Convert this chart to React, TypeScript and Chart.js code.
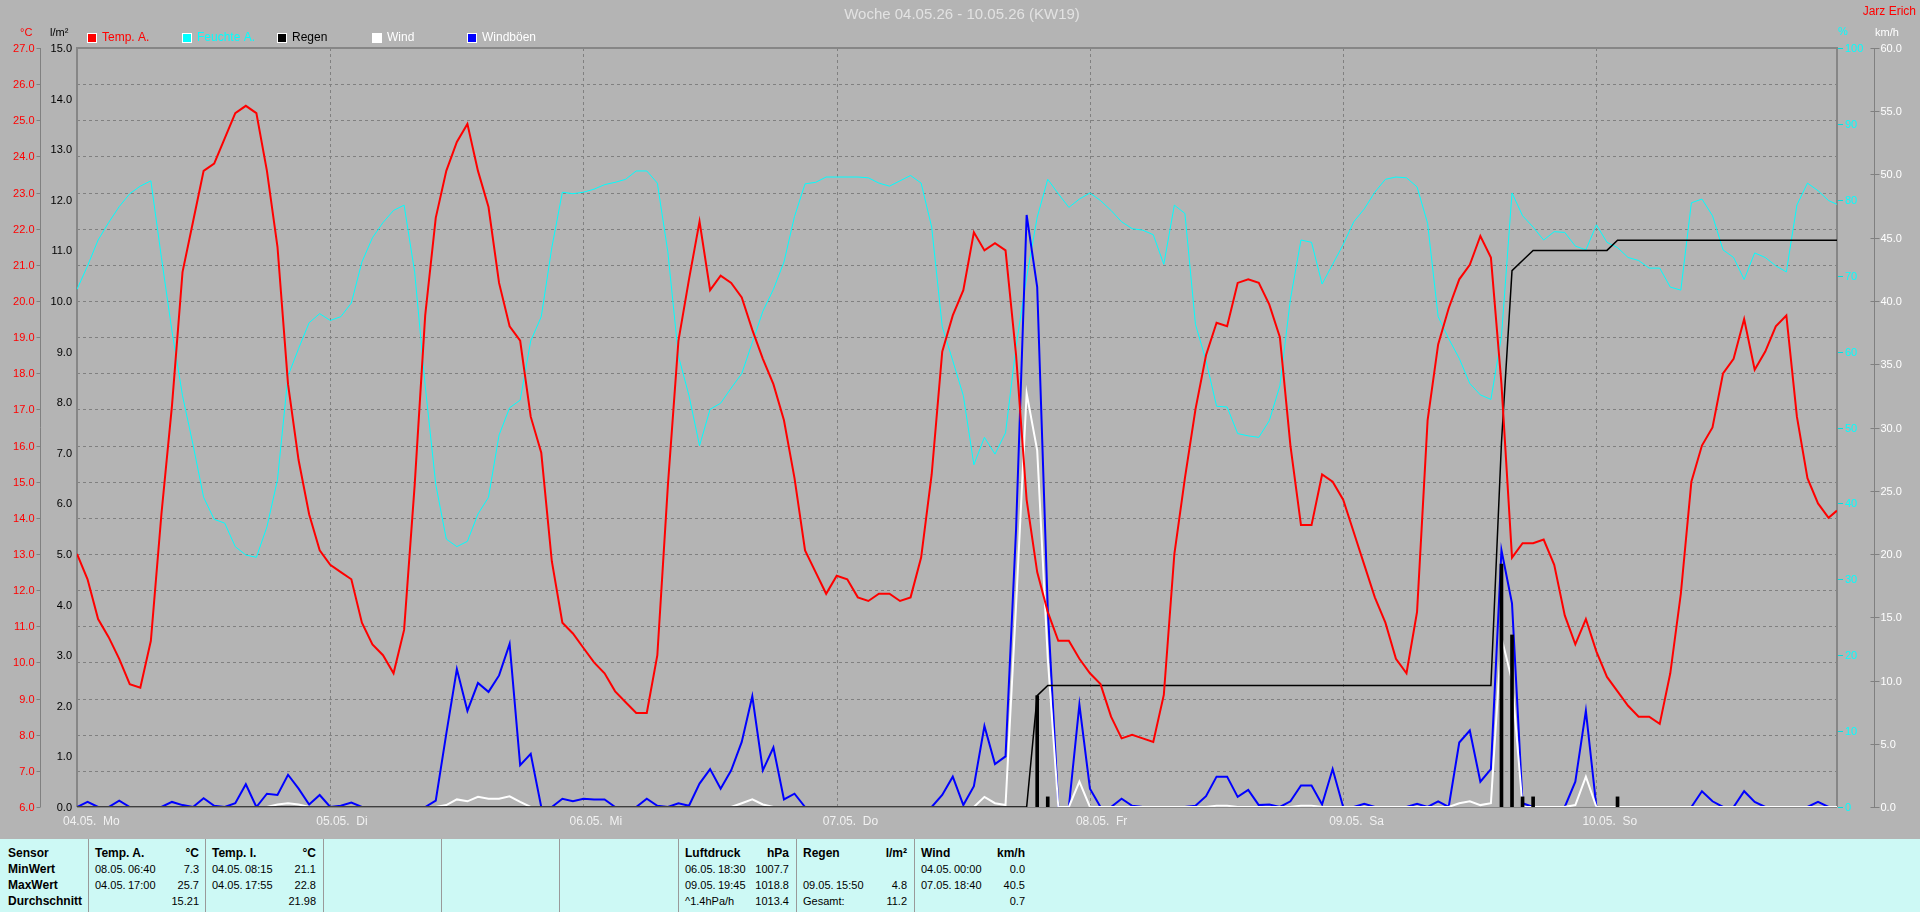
import React, { useEffect, useRef } from "react";
import { Chart, registerables } from "chart.js";

Chart.register(...registerables);

const FONT = '"Liberation Sans", Arial, sans-serif';
const BG = "#b4b4b4";
const TABLE_BG = "#cdf9f5";

// x categories: hours since 04.05. 00:00 (last point = right edge of the week plot)
const HOURS = [...Array.from({ length: 167 }, (_, i) => i), 166.8];

const TEMP_A = [
  13.0, 12.3, 11.2, 10.7, 10.1, 9.4, 9.3, 10.6, 14.1, 17.1, 20.8, 22.2, 23.6, 23.8, 24.5, 25.2, 25.4, 25.2, 23.6, 21.5, 17.7, 15.6, 14.1, 13.1,
  12.7, 12.5, 12.3, 11.1, 10.5, 10.2, 9.7, 10.9, 14.9, 19.6, 22.3, 23.6, 24.4, 24.9, 23.6, 22.6, 20.5, 19.3, 18.9, 16.8, 15.8, 12.8, 11.1, 10.8,
  10.4, 10.0, 9.7, 9.2, 8.9, 8.6, 8.6, 10.2, 14.9, 18.9, 20.6, 22.2, 20.3, 20.7, 20.5, 20.1, 19.2, 18.4, 17.7, 16.7, 15.1, 13.1, 12.5, 11.9,
  12.4, 12.3, 11.8, 11.7, 11.9, 11.9, 11.7, 11.8, 12.9, 15.2, 18.6, 19.6, 20.3, 21.9, 21.4, 21.6, 21.4, 18.5, 14.5, 12.5, 11.4, 10.6, 10.6, 10.1,
  9.7, 9.4, 8.5, 7.9, 8.0, 7.9, 7.8, 9.1, 13.0, 15.1, 17.0, 18.5, 19.4, 19.3, 20.5, 20.6, 20.5, 19.9, 19.0, 16.0, 13.8, 13.8, 15.2, 15.0,
  14.5, 13.6, 12.7, 11.8, 11.1, 10.1, 9.7, 11.4, 16.7, 18.8, 19.8, 20.6, 21.0, 21.8, 21.2, 17.7, 12.9, 13.3, 13.3, 13.4, 12.7, 11.3, 10.5, 11.2,
  10.3, 9.6, 9.2, 8.8, 8.5, 8.5, 8.3, 9.7, 11.9, 15.0, 16.0, 16.5, 18.0, 18.4, 19.5, 18.1, 18.6, 19.3, 19.6, 16.8, 15.1, 14.4, 14.0, 14.2,
];

const HUMIDITY_A = [
  68.2, 71.3, 74.7, 77.0, 79.1, 80.8, 81.8, 82.5, 72.4, 62.7, 54.2, 47.7, 40.8, 37.9, 37.4, 34.3, 33.2, 32.9, 36.9, 43.1, 56.8, 60.4, 63.8, 65.0,
  64.1, 64.6, 66.4, 71.8, 75.0, 77.0, 78.6, 79.3, 70.5, 55.5, 42.5, 35.3, 34.3, 35.0, 38.6, 40.8, 49.0, 52.6, 53.6, 61.4, 64.6, 73.7, 81.0, 80.8,
  81.0, 81.4, 82.0, 82.3, 82.7, 83.8, 83.8, 82.2, 73.1, 59.4, 54.2, 47.6, 52.4, 53.2, 55.2, 57.1, 61.2, 65.3, 68.2, 71.8, 77.8, 82.1, 82.3, 83.0,
  83.0, 83.0, 83.0, 82.9, 82.2, 81.8, 82.5, 83.2, 82.2, 76.4, 63.3, 58.8, 54.2, 45.1, 48.7, 46.5, 49.3, 60.7, 69.8, 77.7, 82.7, 80.8, 79.0, 80.1,
  80.9, 79.9, 78.6, 77.1, 76.2, 76.0, 75.4, 71.5, 79.3, 78.2, 63.6, 58.8, 52.8, 52.7, 49.2, 48.9, 48.7, 50.9, 55.5, 66.9, 74.7, 74.4, 68.9, 71.5,
  74.1, 77.1, 78.8, 81.0, 82.7, 83.0, 82.9, 81.7, 76.9, 64.6, 61.7, 59.1, 55.8, 54.3, 53.7, 62.0, 80.9, 77.9, 76.4, 74.7, 75.8, 75.7, 73.9, 73.4,
  76.7, 74.4, 73.7, 72.4, 72.0, 71.0, 71.0, 68.5, 68.1, 79.6, 80.1, 77.9, 73.4, 72.4, 69.5, 73.0, 72.4, 71.3, 70.5, 79.3, 82.2, 81.2, 79.9, 79.4,
];

const GUSTS = [
  0, 0.4, 0, 0, 0.5, 0, 0, 0, 0, 0.4, 0.15, 0, 0.7, 0.1, 0, 0.3, 1.8, 0, 1.05, 0.95, 2.55, 1.45, 0.2, 0.95,
  0, 0.1, 0.35, 0, 0, 0, 0, 0, 0, 0, 0.5, 5.8, 10.9, 7.6, 9.8, 9.1, 10.4, 12.9, 3.3, 4.2, 0, 0, 0.65, 0.45,
  0.65, 0.6, 0.6, 0, 0, 0, 0.65, 0.1, 0, 0.3, 0.1, 1.85, 3.0, 1.45, 2.9, 5.15, 8.75, 2.9, 4.7, 0.6, 1.05, 0, 0, 0,
  0, 0, 0, 0, 0, 0, 0, 0, 0, 0, 0.95, 2.4, 0.15, 1.65, 6.4, 3.4, 4.0, 22, 46.8, 41.1, 15.7, 0, 0, 8.1,
  1.45, 0, 0, 0.65, 0.1, 0, 0, 0, 0, 0, 0.1, 0.85, 2.4, 2.4, 0.8, 1.35, 0.15, 0.2, 0, 0.45, 1.7, 1.7, 0.2, 3.0,
  0, 0, 0.25, 0, 0, 0, 0, 0.25, 0, 0.45, 0, 5.1, 6.05, 2.0, 3.0, 20.3, 16.1, 0.3, 0, 0, 0, 0, 2.0, 7.6,
  0, 0, 0, 0, 0, 0, 0, 0, 0, 0, 1.25, 0.45, 0, 0, 1.25, 0.4, 0, 0, 0, 0, 0, 0.4, 0, 0,
];

const WIND = [
  0, 0, 0, 0, 0, 0, 0, 0, 0, 0, 0, 0, 0, 0, 0, 0, 0, 0, 0, 0.2, 0.3, 0.2, 0, 0,
  0, 0, 0, 0, 0, 0, 0, 0, 0, 0, 0, 0.15, 0.6, 0.45, 0.8, 0.65, 0.65, 0.85, 0.4, 0, 0, 0, 0, 0,
  0, 0, 0, 0, 0, 0, 0, 0, 0, 0, 0, 0, 0, 0, 0, 0.3, 0.6, 0.2, 0, 0, 0, 0, 0, 0,
  0, 0, 0, 0, 0, 0, 0, 0, 0, 0, 0, 0, 0, 0, 0.8, 0.3, 0.15, 16, 32.7, 28.2, 11.8, 0, 0, 2.0,
  0, 0, 0, 0, 0, 0, 0, 0, 0, 0, 0, 0, 0.1, 0.1, 0, 0, 0, 0, 0, 0, 0.1, 0.1, 0, 0,
  0, 0, 0, 0, 0, 0, 0, 0, 0, 0, 0, 0.3, 0.45, 0.15, 0.3, 13.4, 10.0, 0, 0, 0, 0, 0, 0.15, 2.4,
  0, 0, 0, 0, 0, 0, 0, 0, 0, 0, 0, 0, 0, 0, 0, 0, 0, 0, 0, 0, 0, 0, 0, 0,
];

const RAIN_TOTAL = [
  0, 0, 0, 0, 0, 0, 0, 0, 0, 0, 0, 0, 0, 0, 0, 0, 0, 0, 0, 0, 0, 0, 0, 0,
  0, 0, 0, 0, 0, 0, 0, 0, 0, 0, 0, 0, 0, 0, 0, 0, 0, 0, 0, 0, 0, 0, 0, 0,
  0, 0, 0, 0, 0, 0, 0, 0, 0, 0, 0, 0, 0, 0, 0, 0, 0, 0, 0, 0, 0, 0, 0, 0,
  0, 0, 0, 0, 0, 0, 0, 0, 0, 0, 0, 0, 0, 0, 0, 0, 0, 0, 0, 2.2, 2.4, 2.4, 2.4, 2.4,
  2.4, 2.4, 2.4, 2.4, 2.4, 2.4, 2.4, 2.4, 2.4, 2.4, 2.4, 2.4, 2.4, 2.4, 2.4, 2.4, 2.4, 2.4, 2.4, 2.4, 2.4, 2.4, 2.4, 2.4,
  2.4, 2.4, 2.4, 2.4, 2.4, 2.4, 2.4, 2.4, 2.4, 2.4, 2.4, 2.4, 2.4, 2.4, 2.4, 7.2, 10.6, 10.8, 11.0, 11.0, 11.0, 11.0, 11.0, 11.0,
  11.0, 11.0, 11.2, 11.2, 11.2, 11.2, 11.2, 11.2, 11.2, 11.2, 11.2, 11.2, 11.2, 11.2, 11.2, 11.2, 11.2, 11.2, 11.2, 11.2, 11.2, 11.2, 11.2, 11.2,
];

const RAIN_BAR_HOURS = [91, 92, 135, 136, 137, 138, 146];
const RAIN_BAR_VALUES = [2.2, 0.2, 4.8, 3.4, 0.2, 0.2, 0.2];

const DAY_LABELS = ["04.05.  Mo", "05.05.  Di", "06.05.  Mi", "07.05.  Do", "08.05.  Fr", "09.05.  Sa", "10.05.  So"];

const LEGEND_ITEMS = [
  { text: "Temp. A.", color: "#ff0000", textColor: "#ff0000" },
  { text: "Feuchte A.", color: "#00ffff", textColor: "#00ffff" },
  { text: "Regen", color: "#000000", textColor: "#000000" },
  { text: "Wind", color: "#ffffff", textColor: "#ffffff" },
  { text: "Windböen", color: "#0000ff", textColor: "#ffffff" },
];

const TITLE = "Woche 04.05.26 - 10.05.26 (KW19)";
const AUTHOR = "Jarz Erich";

const ROW_LABELS = ["Sensor", "MinWert", "MaxWert", "Durchschnitt"];
const TABLE_COLS = [
  { left: 88, title: "Temp. A.", unit: "°C", rows: [["08.05.", "06:40", "7.3"], ["04.05.", "17:00", "25.7"], ["", "", "15.21"]] },
  { left: 205, title: "Temp. I.", unit: "°C", rows: [["04.05.", "08:15", "21.1"], ["04.05.", "17:55", "22.8"], ["", "", "21.98"]] },
  { left: 323, title: "", unit: "", rows: [] as string[][] },
  { left: 441, title: "", unit: "", rows: [] as string[][] },
  { left: 559, title: "", unit: "", rows: [] as string[][] },
  { left: 678, title: "Luftdruck", unit: "hPa", rows: [["06.05.", "18:30", "1007.7"], ["09.05.", "19:45", "1018.8"], ["^1.4hPa/h", "", "1013.4"]] },
  { left: 796, title: "Regen", unit: "l/m²", rows: [["", "", ""], ["09.05.", "15:50", "4.8"], ["Gesamt:", "", "11.2"]] },
  { left: 914, title: "Wind", unit: "km/h", rows: [["04.05.", "00:00", "0.0"], ["07.05.", "18:40", "40.5"], ["", "", "0.7"]] },
];
const COL_W = 118;

const decorPlugin = {
  id: "decor",
  beforeDraw(chart: any) {
    const ctx = chart.ctx;
    ctx.save();
    ctx.fillStyle = BG;
    ctx.fillRect(0, 0, chart.width, chart.height);
    ctx.restore();
  },
  beforeDatasetsDraw(chart: any) {
    const { ctx, chartArea: a, scales } = chart;
    ctx.save();
    ctx.strokeStyle = "#808080";
    ctx.lineWidth = 1;
    ctx.setLineDash([3, 3]);
    for (const t of scales.yT.ticks) {
      const y = Math.round(scales.yT.getPixelForValue(t.value)) + 0.5;
      if (y <= a.top + 2 || y >= a.bottom - 2) continue;
      ctx.beginPath();
      ctx.moveTo(a.left, y);
      ctx.lineTo(a.right, y);
      ctx.stroke();
    }
    for (const t of scales.x.ticks) {
      const x = Math.round(scales.x.getPixelForValue(t.value)) + 0.5;
      if (x <= a.left + 2 || x >= a.right - 2) continue;
      ctx.beginPath();
      ctx.moveTo(x, a.top);
      ctx.lineTo(x, a.bottom);
      ctx.stroke();
    }
    ctx.setLineDash([]);
    // frame
    ctx.fillStyle = "#868686";
    ctx.fillRect(a.left - 1, a.top - 1, a.right - a.left + 2, 2);
    ctx.fillRect(a.left - 1, a.top - 1, 2, a.bottom - a.top + 1);
    ctx.fillRect(a.right - 1, a.top - 1, 2, a.bottom - a.top + 1);
    ctx.fillRect(a.left, Math.round(a.bottom), a.right - a.left, 1);
    ctx.restore();
  },
  afterDraw(chart: any) {
    const { ctx, chartArea: a, scales } = chart;
    const { x, yT, yR, yH, yW } = scales;
    ctx.save();
    ctx.textBaseline = "middle";
    ctx.font = `11px ${FONT}`;
    const line = (x1: number, y1: number, x2: number, y2: number) => {
      ctx.beginPath();
      ctx.moveTo(x1, y1);
      ctx.lineTo(x2, y2);
      ctx.stroke();
    };

    // °C axis
    const cAxis = a.left - 37 + 0.5;
    ctx.strokeStyle = "#808080";
    ctx.lineWidth = 1;
    line(cAxis, a.top, cAxis, a.bottom);
    for (const t of yT.ticks) {
      const y = Math.round(yT.getPixelForValue(t.value)) + 0.5;
      ctx.strokeStyle = "#808080";
      line(cAxis - 4, y, cAxis, y);
      ctx.fillStyle = "#ff0000";
      ctx.textAlign = "right";
      ctx.fillText(Number(t.value).toFixed(1), cAxis - 6, y);
    }
    // l/m² labels
    for (const t of yR.ticks) {
      const y = Math.round(yR.getPixelForValue(t.value)) + 0.5;
      ctx.fillStyle = "#000000";
      ctx.textAlign = "right";
      ctx.fillText(Number(t.value).toFixed(1), a.left - 5, y);
    }
    // % axis
    for (const t of yH.ticks) {
      const y = Math.round(yH.getPixelForValue(t.value)) + 0.5;
      ctx.strokeStyle = "#00e0e0";
      line(a.right + 1, y, a.right + 6, y);
      ctx.fillStyle = "#00ffff";
      ctx.textAlign = "left";
      ctx.fillText(String(t.value), a.right + 8, y);
    }
    // km/h axis
    const wAxis = a.right + 37 + 0.5;
    ctx.strokeStyle = "#808080";
    line(wAxis, a.top, wAxis, a.bottom);
    for (const t of yW.ticks) {
      const y = Math.round(yW.getPixelForValue(t.value)) + 0.5;
      ctx.strokeStyle = "#808080";
      line(wAxis - 4, y, wAxis + 5, y);
      ctx.fillStyle = "#ffffff";
      ctx.textAlign = "left";
      ctx.fillText(Number(t.value).toFixed(1), wAxis + 6, y);
    }

    // unit headers
    ctx.textAlign = "left";
    ctx.fillStyle = "#ff0000";
    ctx.fillText("°C", 20, 33);
    ctx.fillStyle = "#000000";
    ctx.fillText("l/m²", 50, 33);
    ctx.fillStyle = "#00ffff";
    ctx.fillText("%", a.right + 1, 32);
    ctx.fillStyle = "#ffffff";
    ctx.fillText("km/h", a.right + 38, 33);

    // author
    ctx.font = `12px ${FONT}`;
    ctx.fillStyle = "#ff0000";
    ctx.textAlign = "right";
    ctx.fillText(AUTHOR, 1916, 12);

    // title
    ctx.font = `15px ${FONT}`;
    ctx.fillStyle = "#e2e2e2";
    ctx.textAlign = "center";
    ctx.fillText(TITLE, 962, 15);

    // legend
    ctx.font = `12px ${FONT}`;
    ctx.textAlign = "left";
    LEGEND_ITEMS.forEach((item, i) => {
      const lx = 87 + i * 95;
      ctx.fillStyle = "#ffffff";
      ctx.fillRect(lx, 33, 10, 10);
      ctx.fillStyle = item.color;
      ctx.fillRect(lx + 1, 34, 8, 8);
      ctx.fillStyle = item.textColor;
      ctx.fillText(item.text, lx + 15, 38);
    });

    // day labels
    ctx.font = `12px ${FONT}`;
    ctx.fillStyle = "#f2f2f2";
    ctx.textAlign = "left";
    DAY_LABELS.forEach((lab, d) => {
      const px = x.getPixelForValue(d * 24);
      ctx.fillText(lab, px - 14, 822);
    });
    ctx.restore();
  },
};

function Table() {
  const rowTop = (r: number) => 845 + r * 16;
  const cell = (text: string, style: React.CSSProperties, key: string) => (
    <div key={key} style={{ position: "absolute", whiteSpace: "pre", lineHeight: "16px", height: 16, ...style }}>
      {text}
    </div>
  );
  const items: React.ReactNode[] = [];
  ROW_LABELS.forEach((lab, r) => items.push(cell(lab, { left: 8, top: rowTop(r), fontWeight: "bold", fontSize: 12 }, "rl" + r)));
  TABLE_COLS.forEach((c, ci) => {
    items.push(
      <div key={"sep" + ci} style={{ position: "absolute", left: c.left, top: 839, width: 1, height: 73, background: "#9a9a9a" }} />
    );
    if (c.title) {
      items.push(cell(c.title, { left: c.left + 7, top: rowTop(0), fontWeight: "bold", fontSize: 12 }, `t${ci}`));
      items.push(cell(c.unit, { left: c.left + 7, width: COL_W - 14, textAlign: "right", top: rowTop(0), fontWeight: "bold", fontSize: 12 }, `u${ci}`));
    }
    c.rows.forEach((row, ri) => {
      const top = rowTop(ri + 1);
      if (row[0]) items.push(cell(row[0], { left: c.left + 7, top }, `a${ci}-${ri}`));
      if (row[1]) items.push(cell(row[1], { left: c.left + 40, top }, `b${ci}-${ri}`));
      if (row[2]) items.push(cell(row[2], { left: c.left + 7, width: COL_W - 14, textAlign: "right", top }, `c${ci}-${ri}`));
    });
  });
  return (
    <div style={{ position: "absolute", left: 0, top: 0, width: 1920, height: 912, pointerEvents: "none", font: `11px ${FONT}`, color: "#000" }}>
      <div style={{ position: "absolute", left: 0, top: 839, width: 1920, height: 73, background: TABLE_BG }} />
      {items}
    </div>
  );
}

export default function App() {
  const canvasRef = useRef<HTMLCanvasElement | null>(null);
  useEffect(() => {
    document.body.style.margin = "0";
    const canvas = canvasRef.current;
    if (!canvas) return;
    const lineDs = (label: string, data: number[], axis: string, color: string, width: number, order: number) => ({
      type: "line" as const,
      label,
      data,
      yAxisID: axis,
      borderColor: color,
      backgroundColor: color,
      borderWidth: width,
      pointRadius: 0,
      tension: 0,
      fill: false,
      order,
    });
    const chart = new Chart(canvas, {
      type: "line",
      data: {
        labels: HOURS,
        datasets: [
          lineDs("Temp. A.", TEMP_A, "yT", "#ff0000", 2, 1),
          lineDs("Regen", RAIN_TOTAL, "yR", "#000000", 1.5, 2),
          {
            type: "bar" as const,
            label: "Regen/h",
            data: RAIN_BAR_HOURS.map((h, i) => ({ x: h, y: RAIN_BAR_VALUES[i] })),
            yAxisID: "yR",
            backgroundColor: "#000000",
            borderWidth: 0,
            barThickness: 3,
            order: 3,
          } as any,
          lineDs("Wind", WIND, "yW", "#ffffff", 2, 4),
          lineDs("Windböen", GUSTS, "yW", "#0000ff", 2, 5),
          lineDs("Feuchte A.", HUMIDITY_A, "yH", "#00ffff", 1, 6),
        ],
      },
      options: {
        responsive: false,
        animation: false,
        events: [],
        layout: { padding: { left: 77, top: 48, right: 83, bottom: 105 } },
        plugins: { legend: { display: false }, title: { display: false }, tooltip: { enabled: false } },
        scales: {
          x: { type: "linear", min: 0, max: 166.8, offset: false, display: false, ticks: { stepSize: 24 } },
          yT: { type: "linear", position: "left", min: 6, max: 27, display: false, ticks: { stepSize: 1 } },
          yR: { type: "linear", position: "left", min: 0, max: 15, display: false, ticks: { stepSize: 1 } },
          yH: { type: "linear", position: "right", min: 0, max: 100, display: false, ticks: { stepSize: 10 } },
          yW: { type: "linear", position: "right", min: 0, max: 60, display: false, ticks: { stepSize: 5 } },
        },
      } as any,
      plugins: [decorPlugin],
    });
    return () => chart.destroy();
  }, []);
  return (
    <div style={{ position: "relative", width: 1920, height: 912, overflow: "hidden", background: BG }}>
      <canvas ref={canvasRef} width={1920} height={912} style={{ position: "absolute", left: 0, top: 0, width: 1920, height: 912, display: "block" }} />
      <Table />
    </div>
  );
}
